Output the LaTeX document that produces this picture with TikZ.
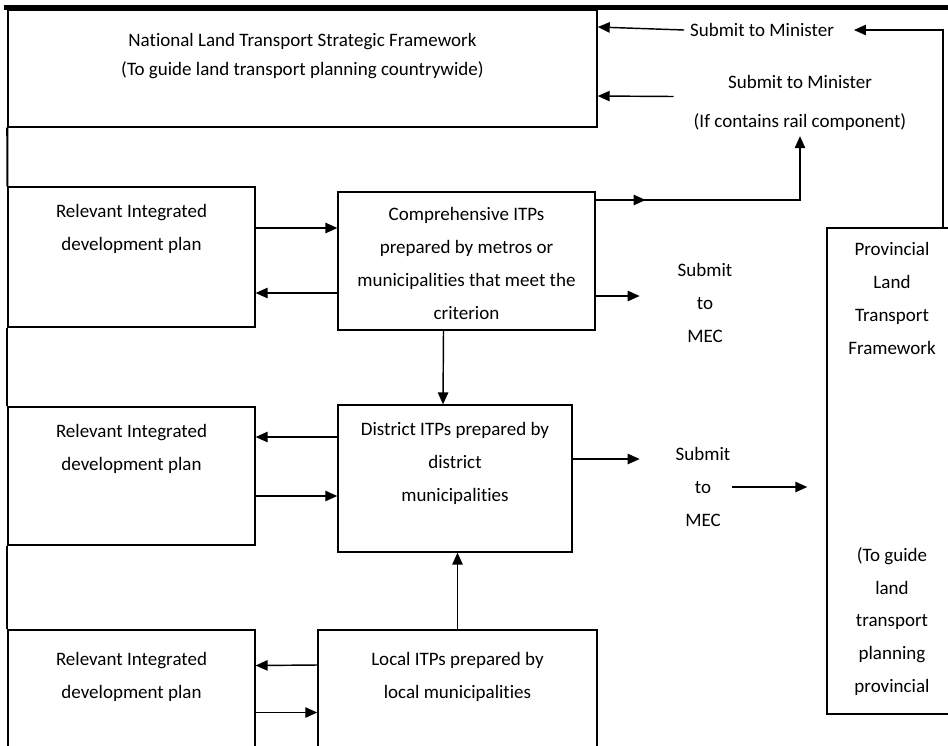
\documentclass[tikz,border=0pt]{standalone}
\usepackage{fontspec}
\setmainfont{Carlito}[Ligatures=NoCommon]
\usetikzlibrary{positioning, calc, arrows.meta}

\begin{document}
\begin{tikzpicture}[x=0.022cm, y=-0.022cm, line width=0.9pt, >={Triangle[length=7.5pt, width=6.5pt]},
	font=\fontsize{11.9}{20.6}\selectfont,
	box/.style={draw, inner sep=0pt},
	txt/.style={anchor=north, align=center, yshift=-#1}]
	\useasboundingbox (0,0) rectangle (948,745);

	\node (nat) [box, minimum width=12.96cm, minimum height=2.57cm, label={[txt=11.5pt, font=\fontsize{11.9}{18}\selectfont]north:National Land Transport Strategic Framework\\(To guide land transport planning countrywide)}] at (302.5,68.5) {};
	\node (idp1) [box, minimum width=5.43cm, minimum height=3.08cm, label={[txt=7.5pt]north:Relevant Integrated\\development plan}] at (131.5,257) {};
	\node (idp2) [box, minimum width=5.43cm, minimum height=3.04cm, label={[txt=7.5pt]north:Relevant Integrated\\development plan}] at (131.5,476) {};
	\node (idp3) [box, minimum width=5.43cm, minimum height=3.19cm, label={[txt=10.5pt]north:Relevant Integrated\\development plan}] at (131.5,702.5) {};
	\node (comp) [box, minimum width=5.65cm, minimum height=3.04cm, label={[txt=6.5pt]north:Comprehensive ITPs\\prepared by metros or\\municipalities that meet the\\criterion}] at (466.5,261) {};
	\node (dist) [box, minimum width=5.15cm, minimum height=3.23cm, label={[txt=7.5pt]north:District ITPs prepared by\\district\\municipalities}] at (455,478.5) {};
	\node (loc) [box, minimum width=6.14cm, minimum height=3.19cm, label={[txt=10.5pt]north:Local ITPs prepared by\\local municipalities}] at (457.5,702.5) {};
	\node (prov) [box, minimum width=2.86cm, minimum height=10.69cm, label={[txt=5.5pt]north:Provincial\\Land\\Transport\\Framework}, label={[anchor=south, align=center, yshift=8pt]south:(To guide\\land\\transport\\planning\\provincial}] at (892,471) {};

	\node (sub1) at (762,30) {Submit to Minister};
	\node (sub2) [align=center, font=\fontsize{11.9}{24.4}\selectfont] at (800,102.5) {Submit to Minister\\(If contains rail component)};
	\node (mec1) [align=center] at (705,303) {Submit\\to\\MEC};
	\node (mec2) [align=center] at (703,487) {Submit\\to\\MEC};

	% outline on the left and top
	\coordinate (topl) at ($(nat.north west)+(-3,-2)$);
	\coordinate (topr) at (948,8);
	\draw [line width=3pt] (topl) -- (topl -| topr);
	\draw [line width=1.3pt] (nat.south west) -- (idp1.north west);
	\draw [line width=1.3pt] (idp1.south west) -- (idp2.north west);
	\draw [line width=1.3pt] (idp2.south west) -- (idp3.north west);

	\draw [->] ($(idp1.east)+(0,-29)$) -- ($(comp.west)+(0,-33)$);
	\draw [->] ($(comp.west)+(0,32)$) -- ($(idp1.east)+(0,36)$);
	\coordinate (c1) at ($(comp.east)+(0,-61)$);
	\draw [->] (c1) -- ++(50,0);
	\draw [->] (c1) -| (sub2.south);
	\draw [->] ($(comp.east)+(0,35)$) -- ($(mec1.west)+(-32,-7)$);
	\draw [->] ($(comp.south)+(-23,0)$) -- ($(dist.north)+(-12,0)$);

	\draw [->] ($(dist.west)+(0,-41.5)$) -- ($(idp2.east)+(0,-39)$);
	\draw [->] ($(idp2.east)+(0,20)$) -- ($(dist.west)+(0,17.5)$);
	\draw [->] ($(dist.east)+(0,-19.5)$) -- ($(mec2.west)+(-30,-28)$);
	\draw [->] ($(mec2.east)+(-4,0)$) -- ($(prov.west)+(-19,16)$);

	\draw [->] (loc.north) -- (loc.north |- dist.south);
	\draw [->] ($(loc.west)+(0,-37.5)$) -- ($(idp3.east)+(0,-37)$);
	\draw [->] ($(idp3.east)+(0,10)$) -- ($(loc.west)+(0,10)$);

	% back to the minister
	\draw [->] ($(prov.north)+(51,0)$) |- ($(sub1.east)+(14,0)$);
	\draw [->] (sub1.west) -- ($(nat.east)+(0,-41.5)$);
	\draw [->] ($(sub2.west)+(-14,-6)$) -- ($(nat.east)+(0,27.5)$);
\end{tikzpicture}
\end{document}
